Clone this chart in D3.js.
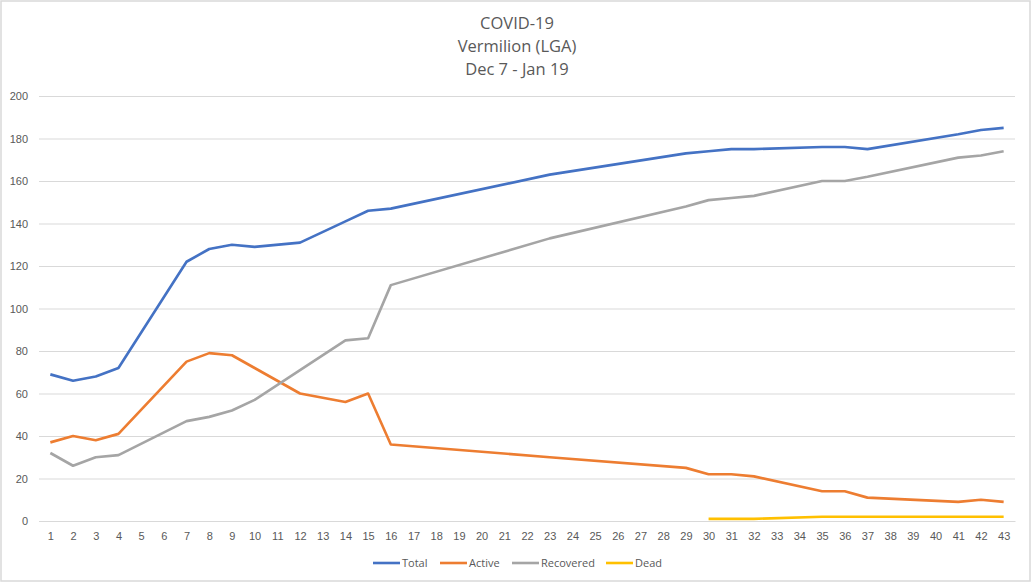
<!DOCTYPE html>
<html>
<head>
<meta charset="utf-8">
<title>COVID-19 Vermilion</title>
<script src="https://d3js.org/d3.v7.min.js"></script>
<style>
body { margin: 0; background: white; font-family: "Open Sans", "Noto Sans", sans-serif; }
.tick text { fill: #595959; font-size: 11px; }
</style>
</head>
<body>
<script>
// day numbers 1..43, values only where a reading exists (Excel joins the gaps)
var days = d3.range(1, 44);
var titleLines = ["COVID-19", "Vermilion (LGA)", "Dec 7 - Jan 19"];
var seriesNames = ["Total", "Active", "Recovered", "Dead"];
var seriesColors = ["#4472c4", "#ed7d31", "#a5a5a5", "#ffc000"];
var yTicks = [0, 20, 40, 60, 80, 100, 120, 140, 160, 180, 200];

var readDays = [1, 2, 3, 4, 7, 8, 9, 10, 12, 14, 15, 16, 23, 29, 30, 31, 32, 35, 36, 37, 41, 42, 43];
var total     = [69, 66, 68, 72, 122, 128, 130, 129, 131, 141, 146, 147, 163, 173, 174, 175, 175, 176, 176, 175, 182, 184, 185];
var active    = [37, 40, 38, 41, 75, 79, 78, 72, 60, 56, 60, 36, 30, 25, 22, 22, 21, 14, 14, 11, 9, 10, 9];
var recovered = [32, 26, 30, 31, 47, 49, 52, 57, 71, 85, 86, 111, 133, 148, 151, 152, 153, 160, 160, 162, 171, 172, 174];
var deadDays  = [30, 31, 32, 35, 36, 37, 41, 42, 43];
var dead      = [1, 1, 1, 2, 2, 2, 2, 2, 2];

var width = 1032, height = 583;
var svg = d3.select("body").append("svg")
  .attr("width", width).attr("height", height);

// chart frame
svg.append("rect")
  .attr("x", 1).attr("y", 1)
  .attr("width", 1029).attr("height", 580)
  .attr("fill", "white").attr("stroke", "#d9d9d9").attr("stroke-width", 1.5);

var x = d3.scalePoint().domain(days).range([39, 1015]).padding(0.5);
var y = d3.scaleLinear().domain([0, 200]).range([521, 96]);

// title
svg.append("g").selectAll("text")
  .data(titleLines)
  .enter().append("text")
  .attr("x", 517)
  .attr("y", function(d, i) { return 29 + i * 23; })
  .attr("text-anchor", "middle")
  .attr("fill", "#595959")
  .style("font-size", "16.5px")
  .text(function(d) { return d; });

// gridlines + y labels
var yAxis = svg.append("g")
  .attr("transform", "translate(39,0)")
  .call(d3.axisLeft(y).tickValues(yTicks).tickSize(-976).tickPadding(11));
yAxis.select(".domain").remove();
yAxis.selectAll(".tick line").attr("stroke", "#d9d9d9");

// x axis
var xAxis = svg.append("g")
  .attr("transform", "translate(0,521)")
  .call(d3.axisBottom(x).tickSize(0).tickPadding(11));
xAxis.select(".domain").attr("stroke", "#d9d9d9");

var lineGen = d3.line()
  .x(function(d) { return x(d[0]); })
  .y(function(d) { return y(d[1]); });

var seriesData = [
  d3.zip(readDays, total),
  d3.zip(readDays, active),
  d3.zip(readDays, recovered),
  d3.zip(deadDays, dead)
];

svg.append("g").selectAll("path")
  .data(seriesData)
  .enter().append("path")
  .attr("fill", "none")
  .attr("stroke", function(d, i) { return seriesColors[i]; })
  .attr("stroke-width", 2.6)
  .attr("stroke-linejoin", "round")
  .attr("d", lineGen);

// legend
var legendX = [373, 440, 512, 606];
var legend = svg.append("g").selectAll("g")
  .data(seriesNames)
  .enter().append("g")
  .attr("transform", function(d, i) { return "translate(" + legendX[i] + ",563)"; });
legend.append("line")
  .attr("x1", 0).attr("x2", 27)
  .attr("stroke", function(d, i) { return seriesColors[i]; })
  .attr("stroke-width", 2.6);
legend.append("text")
  .attr("x", 29).attr("dy", "0.35em")
  .attr("fill", "#595959")
  .style("font-size", "11px")
  .text(function(d) { return d; });
</script>
</body>
</html>
